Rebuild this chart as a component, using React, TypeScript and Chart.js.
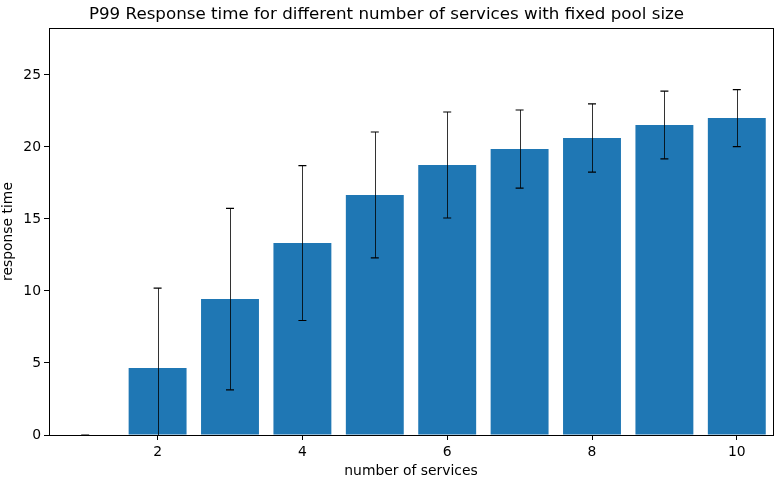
import { useEffect, useRef } from "react";
import { Chart, registerables } from "chart.js";

Chart.register(...registerables);

// number of services on the x axis
const services = [1, 2, 3, 4, 5, 6, 7, 8, 9, 10];
// P99 response time (bar heights)
const p99 = [0, 4.65, 9.44, 13.33, 16.67, 18.75, 19.86, 20.63, 21.53, 22.01];
// symmetric error (std) per bar
const errors = [0, 5.55, 6.3, 5.38, 4.37, 3.68, 2.71, 2.37, 2.35, 1.98];
const xTicks = [2, 4, 6, 8, 10];
const yTicks = [0, 5, 10, 15, 20, 25];

const FONT = "'DejaVu Sans', sans-serif";

// draws the error bars and the full frame around the plot
const errorBarPlugin = {
  id: "errorBars",
  afterDatasetsDraw(chart: any) {
    const { ctx, chartArea, scales } = chart;
    ctx.save();
    ctx.beginPath();
    ctx.rect(chartArea.left, chartArea.top, chartArea.right - chartArea.left, chartArea.bottom - chartArea.top);
    ctx.clip();
    services.forEach((s, i) => {
      const x = scales.x.getPixelForValue(s);
      const yHi = scales.y.getPixelForValue(p99[i] + errors[i]);
      const yLo = scales.y.getPixelForValue(p99[i] - errors[i]);
      ctx.strokeStyle = "rgba(0,0,0,0.8)";
      ctx.lineWidth = 1;
      ctx.beginPath();
      ctx.moveTo(Math.round(x) + 0.5, yHi);
      ctx.lineTo(Math.round(x) + 0.5, yLo);
      ctx.stroke();
      ctx.strokeStyle = "#000";
      ctx.lineWidth = 1.2;
      ctx.beginPath();
      ctx.moveTo(x - 4, yHi);
      ctx.lineTo(x + 4, yHi);
      ctx.moveTo(x - 4, yLo);
      ctx.lineTo(x + 4, yLo);
      ctx.stroke();
    });
    ctx.restore();

    ctx.save();
    ctx.strokeStyle = "#000";
    ctx.lineWidth = 1;
    ctx.strokeRect(
      Math.round(chartArea.left) + 0.5,
      Math.round(chartArea.top) + 0.5,
      Math.round(chartArea.right - chartArea.left),
      Math.round(chartArea.bottom - chartArea.top)
    );
    ctx.restore();
  },
};

export default function App() {
  const canvasRef = useRef<HTMLCanvasElement>(null);

  useEffect(() => {
    document.body.style.margin = "0";
    if (!canvasRef.current) return;

    const chart = new Chart(canvasRef.current, {
      type: "bar",
      data: {
        datasets: [
          {
            data: services.map((s, i) => ({ x: s, y: p99[i] })),
            backgroundColor: "#1f77b4",
            borderWidth: 0,
            barPercentage: 0.8,
            categoryPercentage: 1,
          },
        ],
      },
      options: {
        animation: false,
        responsive: false,
        devicePixelRatio: 1,
        layout: { padding: { left: 0, right: 6, top: 0, bottom: 0 } },
        plugins: {
          legend: { display: false },
          tooltip: { enabled: false },
          title: {
            display: true,
            text: "P99 Response time for different number of services with fixed pool size",
            color: "#000",
            font: { family: FONT, size: 16.7, weight: "normal" },
            padding: { top: 5, bottom: 3 },
          },
        },
        scales: {
          x: {
            type: "linear",
            min: 0.5,
            max: 10.5,
            offset: false,
            afterBuildTicks: (axis: any) => {
              axis.ticks = xTicks.map((v) => ({ value: v }));
            },
            afterFit: (axis: any) => {
              axis.height = 45;
            },
            grid: {
              drawOnChartArea: false,
              offset: false,
              color: "#000",
              tickLength: 5,
            },
            border: { color: "#000" },
            ticks: {
              color: "#000",
              font: { family: FONT, size: 13.9 },
              padding: 4,
              maxRotation: 0,
            },
            title: {
              display: true,
              text: "number of services",
              color: "#000",
              font: { family: FONT, size: 13.9 },
              padding: { top: 1, bottom: 0 },
            },
          },
          y: {
            min: 0,
            max: 28.26,
            afterBuildTicks: (axis: any) => {
              axis.ticks = yTicks.map((v) => ({ value: v }));
            },
            afterFit: (axis: any) => {
              axis.width = 49;
            },
            grid: {
              drawOnChartArea: false,
              color: "#000",
              tickLength: 5,
            },
            border: { color: "#000" },
            ticks: {
              color: "#000",
              font: { family: FONT, size: 13.9 },
              padding: 3,
            },
            title: {
              display: true,
              text: "response time",
              color: "#000",
              font: { family: FONT, size: 13.9 },
              padding: { top: 0, bottom: 2 },
            },
          },
        },
      },
      plugins: [errorBarPlugin],
    });

    return () => {
      chart.destroy();
    };
  }, []);

  return (
    <div style={{ width: 779, height: 480, background: "#fff" }}>
      <canvas ref={canvasRef} width={779} height={480}></canvas>
    </div>
  );
}
